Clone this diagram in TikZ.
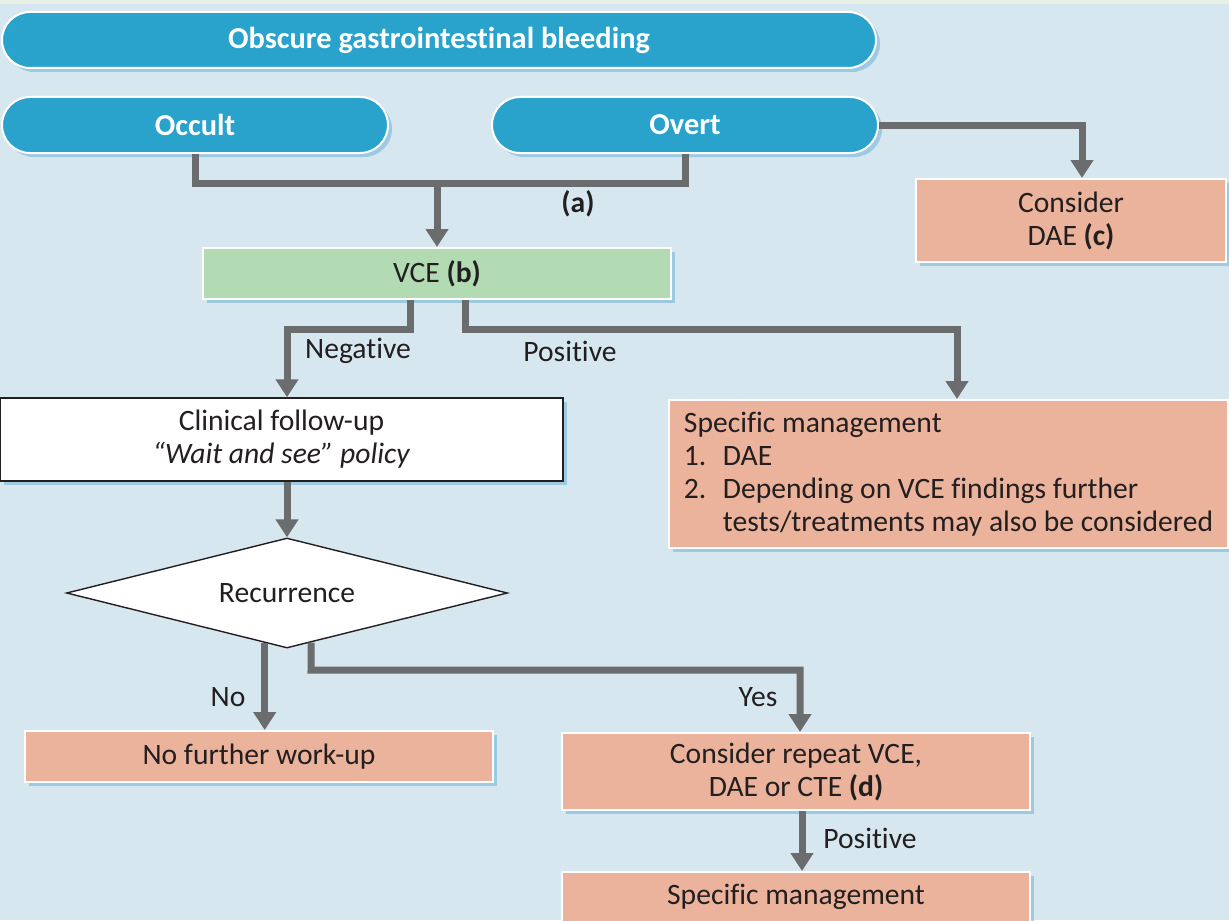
\documentclass[tikz,border=0pt]{standalone}
\usepackage{fontspec}
\setmainfont{Carlito}[Ligatures=NoCommon]
\usetikzlibrary{positioning,shapes.geometric,shadows,arrows.meta}
\definecolor{bgblue}{RGB}{215,231,240}
\definecolor{topgreen}{RGB}{230,240,228}
\definecolor{pillblue}{RGB}{41,162,204}
\definecolor{salmon}{RGB}{235,179,155}
\definecolor{vcegreen}{RGB}{178,219,180}
\definecolor{linegrey}{RGB}{107,108,110}
\definecolor{textdark}{RGB}{35,31,32}
\definecolor{shadowblue}{RGB}{88,166,212}

\begin{document}
\begin{tikzpicture}[x=0.5pt,y=-0.5pt,
  font=\fontsize{14.8}{16.5}\selectfont, text=textdark,
  shade/.style = {drop shadow={shadow xshift=2pt, shadow yshift=-2pt, fill=shadowblue, opacity=0.45}},
  pill/.style = {shade, rounded corners=14pt, fill=pillblue, draw=white, line width=1pt, text=white, font=\fontsize{15.2}{16.5}\selectfont\bfseries, minimum height=28pt, inner sep=0pt},
  box/.style = {shade, fill=salmon, draw=white, line width=1pt, align=center, inner sep=0pt},
  decision/.style = {diamond, aspect=4, draw=textdark, fill=white, line width=0.7pt, minimum width=220.5pt, minimum height=55pt, inner sep=0pt},
  line/.style = {draw=linegrey, line width=3.5pt},
  arrow/.style = {line, -{Triangle[width=11pt,length=9pt]}}]

\useasboundingbox (0,0) rectangle (1229,920);
\clip (0,0) rectangle (1229,920);
\fill[bgblue] (0,0) rectangle (1229,920);
\fill[topgreen] (0,0) rectangle (1229,4);

\node (title) [pill, minimum width=437pt] at (439,40) {Obscure gastrointestinal bleeding};
\node (occult) [pill, minimum width=193pt] at (195,125) {Occult};
\node (overt) [pill, minimum width=193pt, right=51pt of occult] {Overt};
\node (dae) [box, minimum width=155pt, minimum height=41.5pt] at (1071,220.5) {Consider\\DAE \textbf{(c)}};

\node (vce) [box, fill=vcegreen, minimum width=234pt, minimum height=25.5pt] at (437,273.5) {VCE \textbf{(b)}};
\node (clinical) [box, fill=white, draw=textdark, line width=0.75pt, minimum width=281.5pt, minimum height=41.5pt] at (281.5,439.5) {Clinical follow-up\\\textit{“Wait and see” policy}};
\node (spec) [box, align=left, minimum width=279.5pt, minimum height=74pt] at (948.5,474) {Specific management\\\makebox[19.5pt][l]{1.}DAE\\\makebox[19.5pt][l]{2.}Depending on VCE findings further\\\hspace*{19.5pt}tests/treatments may also be considered};

\node (rec) [decision] at (287,593) {Recurrence};
\node (none) [box, minimum width=234pt, minimum height=25.5pt] at (259,756.5) {No further work-up};
\node (rep) [box, minimum width=234pt, minimum height=38.5pt] at (796,771.5) {Consider repeat VCE,\\DAE or CTE \textbf{(d)}};
\node (spec2) [box, minimum width=234pt, minimum height=25pt] at (796,897) {Specific management};

\node (alabel) at (578,204) {\textbf{(a)}};
\node (neg) at (358,351) {Negative};
\node (pos) at (570,351) {Positive};
\node (no) at (228,697) {No};
\node (yes) at (758,697) {Yes};
\node (pos2) at (870,838) {Positive};

\coordinate (join) at (437,183);
\coordinate (yesbend) at (311,670);

\draw[line] (occult.south) |- (join) -| (overt.south);
\draw[arrow] (join) -- (vce.north);
\draw[arrow] (overt.east) -| ([xshift=5.5pt]dae.north);
\draw[arrow] ([xshift=-13.5pt]vce.south) -- ++(0,29) -| ([xshift=2.75pt]clinical.north);
\draw[arrow] ([xshift=14pt]vce.south) -- ++(0,29) -| ([xshift=4.25pt]spec.north);
\draw[arrow] ([xshift=2.75pt]clinical.south) -- (rec.north);
\draw[arrow] (rec.246) -- (rec.246 |- none.north);
\draw[arrow] (rec.296) -- (yesbend) -| ([xshift=2pt]rep.north);
\draw[arrow] ([xshift=3pt]rep.south) -- ([xshift=3pt]spec2.north);

\end{tikzpicture}
\end{document}
